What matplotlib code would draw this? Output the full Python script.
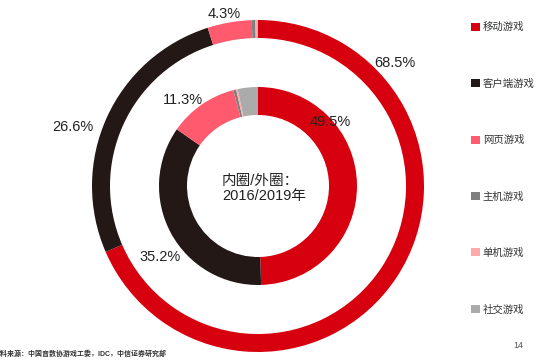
import matplotlib
matplotlib.use("Agg")
import matplotlib.pyplot as plt

categories = ["移动游戏", "客户端游戏", "网页游戏", "主机游戏", "单机游戏", "社交游戏"]
outer_2019 = [68.5, 26.6, 4.3, 0.35, 0.25, 0.0]
inner_2016 = [49.5, 35.2, 11.3, 0.45, 0.25, 3.3]
outer_labels = ["68.5%", "26.6%", "4.3%"]
inner_labels = ["49.5%", "35.2%", "11.3%"]
colors = ["#D7000F", "#231815", "#FF5A6E", "#7F7F7F", "#FFAAAA", "#ABABAB"]

plt.rcParams['font.family'] = ['Liberation Sans', 'Noto Sans CJK SC', 'DejaVu Sans']

W, H = 550, 361
fig = plt.figure(figsize=(W / 100, H / 100), dpi=100)
ax = fig.add_axes([0, 0, 1, 1])

cx, cy = 258, H - 186
wp = dict(linewidth=0, antialiased=True)
ow, _ = ax.pie(outer_2019, colors=colors, startangle=90, counterclock=False,
               radius=166, center=(cx, cy), wedgeprops=dict(width=18, **wp), frame=True)
iw, _ = ax.pie(inner_2016, colors=colors, startangle=90, counterclock=False,
               radius=99, center=(cx, cy), wedgeprops=dict(width=28, **wp), frame=True)
ax.set_xlim(0, W)
ax.set_ylim(0, H)
ax.set_aspect('equal')
ax.axis('off')

# label offsets relative to centre (pixels)
outer_pos = [(137, 123), (-185, 59), (-34, 172)]
inner_pos = [(72, 64), (-98, -71), (-75, 86)]
for t, (dx, dy) in zip(outer_labels, outer_pos):
    ax.text(cx + dx, cy + dy, t, ha='center', va='center', fontsize=10.5, color='#222222')
for t, (dx, dy) in zip(inner_labels, inner_pos):
    ax.text(cx + dx, cy + dy, t, ha='center', va='center', fontsize=10.5, color='#222222')

ax.text(222, H - 181, "内圈/外圈：", ha='left', va='center', fontsize=10.5, color='#222222')
ax.text(222, H - 196, "2016/2019年", ha='left', va='center', fontsize=10.5, color='#222222')

leg = fig.legend(iw, categories, loc='upper left', bbox_to_anchor=(467 / W, 1 - 18 / H),
                 frameon=False, fontsize=7.5, handlelength=0.8, handleheight=0.8,
                 handletextpad=0.3, labelspacing=4.45, borderaxespad=0)
for t in leg.get_texts():
    t.set_color('#333333')

ax.text(-6, H - 354, "资料来源：中国音数协游戏工委，IDC，中信证券研究部", ha='left', va='center',
        fontsize=5.0, color='#333333', fontweight='bold')
ax.text(518, H - 345, "14", ha='center', va='center', fontsize=6.5, color='#555555')

fig.savefig("out.png", dpi=100)
